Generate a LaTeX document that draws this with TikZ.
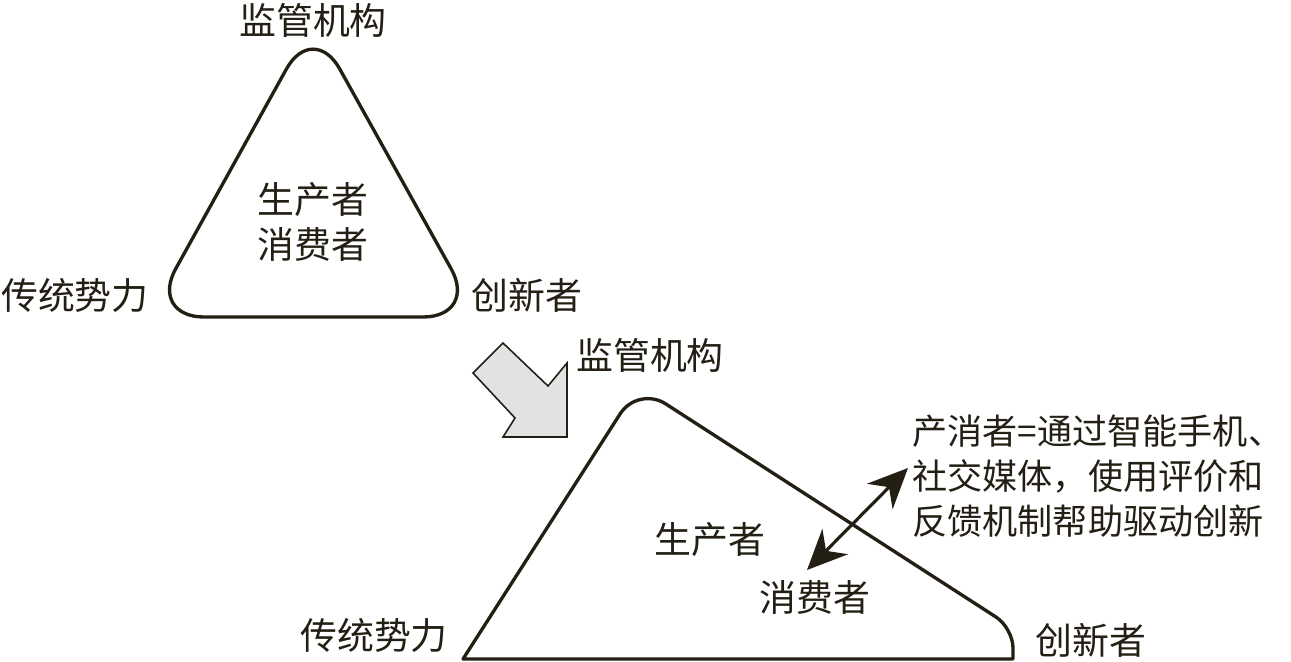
\documentclass[tikz,border=0pt]{standalone}
\usepackage{fontspec}
\newfontfamily\cjk{Noto Sans CJK SC}
\usetikzlibrary{arrows.meta}
\definecolor{ink}{RGB}{35,31,20}
\definecolor{shade}{RGB}{226,226,226}

\begin{document}
\begin{tikzpicture}[
    x=0.02cm, y=-0.02cm,
    lbl/.style={font=\cjk\fontsize{21}{25.6}\selectfont, text=ink, inner sep=0pt, align=center},
    tri/.style={draw=ink, line width=1.9pt, line join=round},
    bigarr/.style={draw=ink, fill=shade, line width=0.9pt, line join=miter},
    dbl/.style={{Stealth[length=0.8cm, width=0.72cm, inset=0.26cm]}-{Stealth[length=0.8cm, width=0.72cm, inset=0.26cm]}, ink, line width=1.8pt}
]
\useasboundingbox (0,0) rectangle (1291,662);

% before: balanced triangle
\draw[tri, rounded corners=1.1cm] (313,317) -- (149,317) -- (313,21) -- (478,317) -- cycle;
\node[lbl] (topReg) at (313,20) {监管机构};
\node[lbl] (topCore) at (313,222) {生产者\\消费者};
\node[lbl] (topOld) at (75,295) {传统势力};
\node[lbl] (topNew) at (527,295) {创新者};

% shift
\draw[bigarr] (503,343) -- (548,386) -- (567,363) -- (567,437) -- (503,437)
    -- (515,418) -- (473,373) -- cycle;

% after: skewed triangle
\draw[tri] (463,659) [rounded corners=0.66cm] -- (638,386) [rounded corners=0.4cm]
    -- (1013,628) [sharp corners] -- (1013,659) -- cycle;
\node[lbl] (botReg) at (650,355) {监管机构};
\node[lbl] (botProd) at (710,540) {生产者};
\node[lbl] (botCons) at (815,597) {消费者};
\node[lbl] (botOld) at (374,635) {传统势力};
\node[lbl] (botNew) at (1091,640) {创新者};
\node[lbl, font=\cjk\fontsize{20}{25.6}\selectfont, anchor=west, align=left] (note) at (912,476)
    {产消者=通过智能手机、\\社交媒体，使用评价和\\反馈机制帮助驱动创新};

\coordinate (consEnd) at (807,570);
\coordinate (noteEnd) at (908,468);
\draw[dbl] (consEnd) -- (noteEnd);
\end{tikzpicture}
\end{document}
